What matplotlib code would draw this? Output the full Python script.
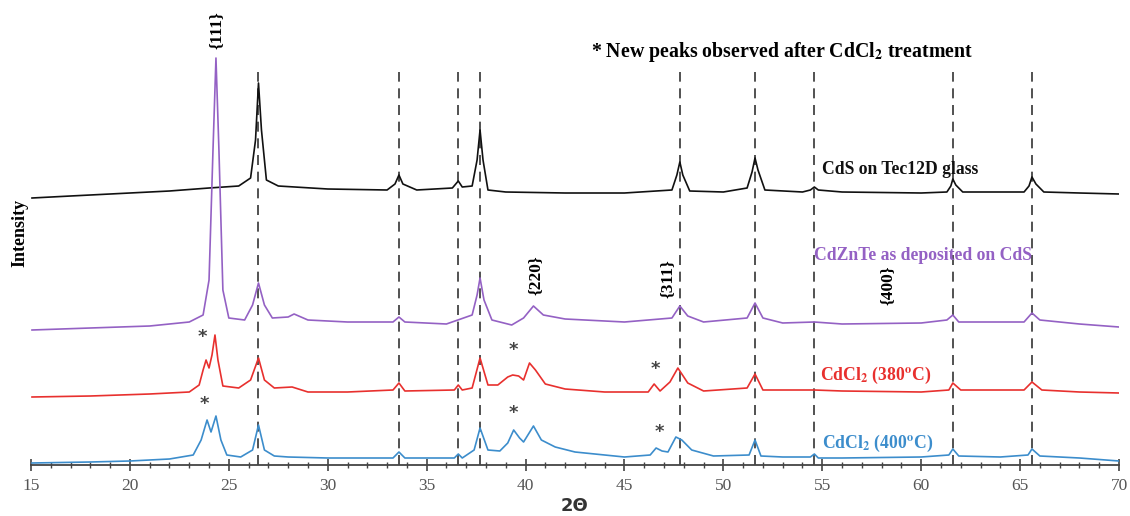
import numpy as np
import matplotlib.pyplot as plt
from matplotlib.ticker import MultipleLocator

plt.rcParams['mathtext.fontset'] = 'stix'

# readings: 2theta positions and heights above the x axis (arb. units)
cds_x = [15.05, 17, 20, 22, 24, 25.5, 26.1, 26.35, 26.5, 26.65, 26.9, 27.5, 30, 33, 33.4, 33.6, 33.8,
         34.5, 36.3, 36.6, 36.8, 37.3, 37.55, 37.7, 37.85, 38.1, 39, 42, 45, 47.4, 47.65, 47.8, 47.95,
         48.3, 50, 51.2, 51.45, 51.6, 51.75, 52.1, 54, 54.4, 54.6, 54.8, 56, 60, 61.3, 61.5, 61.6,
         61.75, 62.1, 65.2, 65.45, 65.6, 65.8, 66.2, 68, 70]
cds_y = [267, 269, 272, 274, 277, 279, 287, 325, 382, 335, 285, 279, 276, 275, 281, 290, 281,
         275, 277, 284, 278, 279, 305, 335, 305, 275, 273, 272, 272, 275, 290, 303, 290,
         274, 273, 277, 293, 307, 295, 275, 273, 275, 278, 275, 273, 272, 273, 279, 286,
         280, 273, 273, 279, 288, 281, 273, 272, 271]

czt_x = [15.05, 18, 21, 23, 23.7, 24.0, 24.2, 24.35, 24.5, 24.7, 25.0, 25.8, 26.2, 26.5, 26.8, 27.2,
         28.0, 28.3, 29, 31, 33.3, 33.6, 33.9, 36, 37.3, 37.55, 37.7, 37.9, 38.3, 39.3, 39.9, 40.4,
         40.9, 42, 45, 47.4, 47.8, 48.2, 49, 51.2, 51.6, 52.0, 53, 54.6, 56, 60, 61.3, 61.6, 61.9,
         65.2, 65.6, 66, 68, 70]
czt_y = [135, 137, 139, 143, 150, 185, 315, 407, 315, 175, 147, 145, 160, 182, 160, 147,
         148, 151, 145, 143, 143, 148, 143, 141, 150, 170, 187, 165, 145, 140, 147, 159,
         150, 146, 143, 147, 159, 149, 143, 147, 162, 147, 142, 143, 141, 142, 145, 150, 143,
         143, 152, 145, 141, 138]

t380_x = [15.05, 18, 21, 23, 23.5, 23.7, 23.85, 24.0, 24.15, 24.3, 24.45, 24.7, 25.5, 26.1, 26.5,
          26.8, 27.3, 28.2, 29, 31, 33.3, 33.6, 33.9, 36.4, 36.6, 36.8, 37.3, 37.7, 38.1, 38.6,
          39.1, 39.35, 39.65, 39.9, 40.2, 40.5, 41, 42, 44, 46.2, 46.5, 46.8, 47.3, 47.7, 48.2,
          49, 51.2, 51.6, 52, 54.6, 56, 60, 61.4, 61.6, 62, 65.2, 65.6, 66.1, 68, 70]
t380_y = [68, 69, 71, 73, 80, 95, 105, 97, 110, 130, 105, 79, 77, 85, 107,
          85, 77, 78, 73, 73, 75, 82, 74, 75, 80, 75, 77, 107, 80, 80,
          88, 90, 89, 85, 102, 95, 81, 76, 73, 73, 81, 74, 83, 97, 82,
          74, 77, 91, 75, 75, 74, 73, 75, 82, 75, 75, 83, 75, 73, 72]

t400_x = [15.05, 18, 20, 22, 23.2, 23.6, 23.9, 24.1, 24.35, 24.6, 24.9, 25.6, 26.2, 26.5, 26.8, 27.3,
          28, 30, 33.3, 33.6, 33.9, 36.4, 36.6, 36.8, 37.4, 37.7, 38.1, 38.7, 39.1, 39.4, 39.7, 39.9,
          40.15, 40.4, 40.8, 41.5, 42.5, 45, 46.3, 46.6, 46.9, 47.2, 47.6, 47.9, 48.4, 49.5, 51.3,
          51.6, 51.9, 53, 54.4, 54.6, 54.8, 56, 60, 61.4, 61.6, 61.9, 64, 65.4, 65.6, 66, 68, 70]
t400_y = [2, 3, 4, 6, 10, 25, 45, 33, 49, 25, 10, 8, 15, 40, 15, 9,
          8, 7, 7, 13, 7, 7, 11, 7, 15, 37, 15, 14, 22, 35, 27, 23,
          31, 39, 25, 18, 13, 8, 10, 17, 14, 13, 28, 25, 15, 9, 10,
          25, 9, 8, 8, 11, 7, 7, 8, 10, 16, 9, 8, 10, 16, 9, 7, 4]

ref_lines = [26.5, 33.6, 36.6, 37.7, 47.8, 51.6, 54.6, 61.6, 65.6]

fig = plt.figure(figsize=(11.3, 5.16), dpi=100)
ax = fig.add_axes([31 / 1130, 51 / 516, 1088 / 1130, 465 / 516])

serif = 'Liberation Serif'

ax.vlines(ref_lines, 0, 393, colors='#333333', linestyles=(0, (6, 4)), linewidth=1.2, zorder=1)

ax.plot(cds_x, cds_y, color='#111111', lw=1.2, zorder=3)
ax.plot(czt_x, czt_y, color='#9461c4', lw=1.2, zorder=3)
ax.plot(t380_x, t380_y, color='#e8302e', lw=1.2, zorder=3)
ax.plot(t400_x, t400_y, color='#3c8dcc', lw=1.2, zorder=3)

ax.set_xlim(15, 70)
ax.set_ylim(0, 465)
for s in ['top', 'left', 'right']:
    ax.spines[s].set_visible(False)
ax.spines['bottom'].set_color('#444444')
ax.spines['bottom'].set_linewidth(1.3)
ax.set_yticks([])
ax.xaxis.set_major_locator(MultipleLocator(5))
ax.xaxis.set_minor_locator(MultipleLocator(1))
ax.tick_params(axis='x', which='major', direction='inout', length=9, width=1.2, color='#444444',
               labelsize=12.5, labelcolor='#555555', pad=5)
ax.tick_params(axis='x', which='minor', direction='inout', length=5, width=1, color='#444444')
for lab in ax.get_xticklabels():
    lab.set_fontfamily(serif)

ax.set_xlabel('2Θ', fontsize=13, fontweight='bold', color='#333333', labelpad=2)
ax.set_ylabel('Intensity', fontsize=13, fontweight='bold', family=serif, labelpad=2)

# hkl labels
ax.text(24.4, 435, '{111}', rotation=90, ha='center', va='center', fontsize=12.5,
        fontweight='bold', family=serif)
ax.text(40.5, 190, '{220}', rotation=90, ha='center', va='center', fontsize=12.5,
        fontweight='bold', family=serif)
ax.text(47.2, 186, '{311}', rotation=90, ha='center', va='center', fontsize=12.5,
        fontweight='bold', family=serif)
ax.text(58.3, 180, '{400}', rotation=90, ha='center', va='center', fontsize=12.5,
        fontweight='bold', family=serif)

ax.text(43.3, 413, '* New peaks observed after CdCl$_\\mathbf{2}$ treatment', ha='left', va='center',
        fontsize=14.3, fontweight='bold', family=serif)

lab_fs = 12.7
ax.text(55.0, 295, 'CdS on Tec12D glass', ha='left', va='center', fontsize=lab_fs,
        fontweight='bold', family=serif, color='#111111')
ax.text(54.6, 209, 'CdZnTe as deposited on CdS', ha='left', va='center', fontsize=lab_fs,
        fontweight='bold', family=serif, color='#9461c4')
ax.text(54.9, 90, 'CdCl$_\\mathbf{2}$ (380$^\\mathbf{o}$C)', ha='left', va='center', fontsize=lab_fs,
        fontweight='bold', family=serif, color='#e8302e')
ax.text(55.0, 22, 'CdCl$_\\mathbf{2}$ (400$^\\mathbf{o}$C)', ha='left', va='center', fontsize=lab_fs,
        fontweight='bold', family=serif, color='#3c8dcc')

# asterisks over the new peaks
for xs, ys in [(23.65, 119), (39.4, 106), (46.55, 87), (23.75, 52), (39.4, 43), (46.75, 24)]:
    ax.text(xs, ys, '*', ha='center', va='bottom', fontsize=13, fontweight='bold', color='#444444')

fig.savefig('out.png', dpi=100)
